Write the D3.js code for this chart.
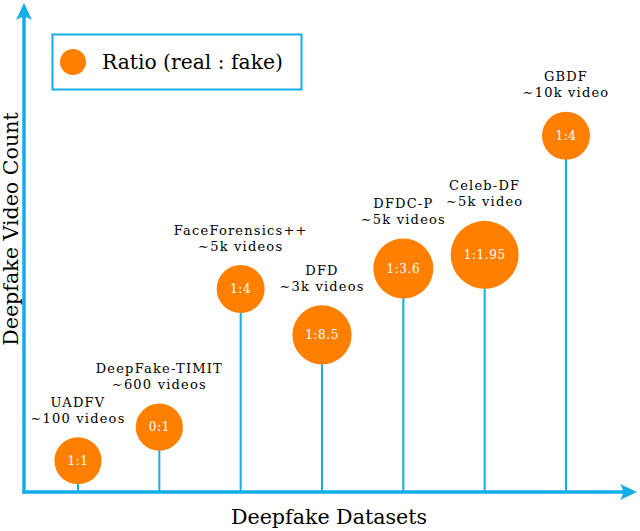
<!DOCTYPE html>
<html>
<head>
<meta charset="utf-8">
<script src="https://cdn.jsdelivr.net/npm/d3@7"></script>
<style>
  body { margin: 0; background: #fff; }
</style>
</head>
<body>
<svg width="640" height="531" font-family="DejaVu Serif"></svg>
<script>
// datasets (left to right)
const datasets = ["UADFV", "DeepFake-TIMIT", "FaceForensics++", "DFD", "DFDC-P", "Celeb-DF", "GBDF"];
const counts = ["\u223C100 videos", "\u223C600 videos", "\u223C5k videos", "\u223C3k videos", "\u223C5k videos", "\u223C5k video", "\u223C10k video"];
const ratios = ["1:1", "0:1", "1:4", "1:8.5", "1:3.6", "1:1.95", "1:4"];
// bubble height on the (unlabelled) count axis
const levels = [6.4, 13.3, 41.6, 32.2, 45.8, 48.6, 73.0];
// bubble size
const sizes = [5.9, 5.9, 6.0, 7.4, 7.5, 8.5, 6.0];

const blue = "#12aee8";
const orange = "#ff8000";

const svg = d3.select("svg");
const x0 = 24, y0 = 492;

const x = d3.scalePoint().domain(datasets).range([78, 566]);
const y = d3.scaleLinear().domain([0, 100]).range([y0, 4]);
const r = d3.scaleLinear().domain([0, 10]).range([0, 40]);

const data = datasets.map((d, i) => ({
    name: d, count: counts[i], ratio: ratios[i], level: levels[i], size: sizes[i]
}));

// stems
svg.selectAll(".stem").data(data).join("line")
    .attr("class", "stem")
    .attr("x1", d => x(d.name)).attr("x2", d => x(d.name))
    .attr("y1", y0).attr("y2", d => y(d.level))
    .attr("stroke", blue).attr("stroke-width", 2);

// axes with arrow heads
svg.append("line").attr("x1", x0).attr("x2", x0).attr("y1", y0 + 1.5).attr("y2", 12)
    .attr("stroke", blue).attr("stroke-width", 3.5);
svg.append("line").attr("x1", x0 - 1.5).attr("x2", 628).attr("y1", y0).attr("y2", y0)
    .attr("stroke", blue).attr("stroke-width", 3.5);
svg.append("path")
    .attr("d", `M${x0},3 L${x0 + 8},20 Q${x0},14 ${x0 - 8},20 Z`)
    .attr("fill", blue);
svg.append("path")
    .attr("d", `M637,${y0} L620,${y0 + 8} Q626,${y0} 620,${y0 - 8} Z`)
    .attr("fill", blue);

// bubbles
const g = svg.selectAll(".bubble").data(data).join("g")
    .attr("class", "bubble")
    .attr("transform", d => `translate(${x(d.name)},${y(d.level)})`);

g.append("circle").attr("r", d => r(d.size)).attr("fill", orange);
g.append("text")
    .attr("text-anchor", "middle").attr("dy", "0.35em")
    .attr("fill", "#fff").attr("font-size", 12).attr("letter-spacing", 0.6)
    .text(d => d.ratio);

// labels above bubbles
g.append("text")
    .attr("text-anchor", "middle")
    .attr("y", d => -r(d.size) - 35).attr("dy", "0.35em")
    .attr("font-size", 13).attr("letter-spacing", 1.2)
    .text(d => d.name);
g.append("text")
    .attr("text-anchor", "middle")
    .attr("y", d => -r(d.size) - 19).attr("dy", "0.35em")
    .attr("font-size", 13).attr("letter-spacing", 1.2)
    .text(d => d.count);

// legend
const legend = svg.append("g");
legend.append("rect").attr("x", 52.5).attr("y", 34.5).attr("width", 249).attr("height", 55)
    .attr("fill", "none").attr("stroke", blue).attr("stroke-width", 2);
legend.append("circle").attr("cx", 73).attr("cy", 62).attr("r", 13).attr("fill", orange);
legend.append("text").attr("x", 102).attr("y", 62).attr("dy", "0.35em")
    .attr("font-size", 20.3)
    .text("Ratio (real : fake)");

// axis titles
svg.append("text").attr("x", 329).attr("y", 517).attr("text-anchor", "middle")
    .attr("dy", "0.35em").attr("font-size", 20.6)
    .text("Deepfake Datasets");
svg.append("text")
    .attr("transform", "translate(11,229) rotate(-90)")
    .attr("text-anchor", "middle").attr("dy", "0.35em")
    .attr("font-size", 20.6)
    .text("Deepfake Video Count");
</script>
</body>
</html>
